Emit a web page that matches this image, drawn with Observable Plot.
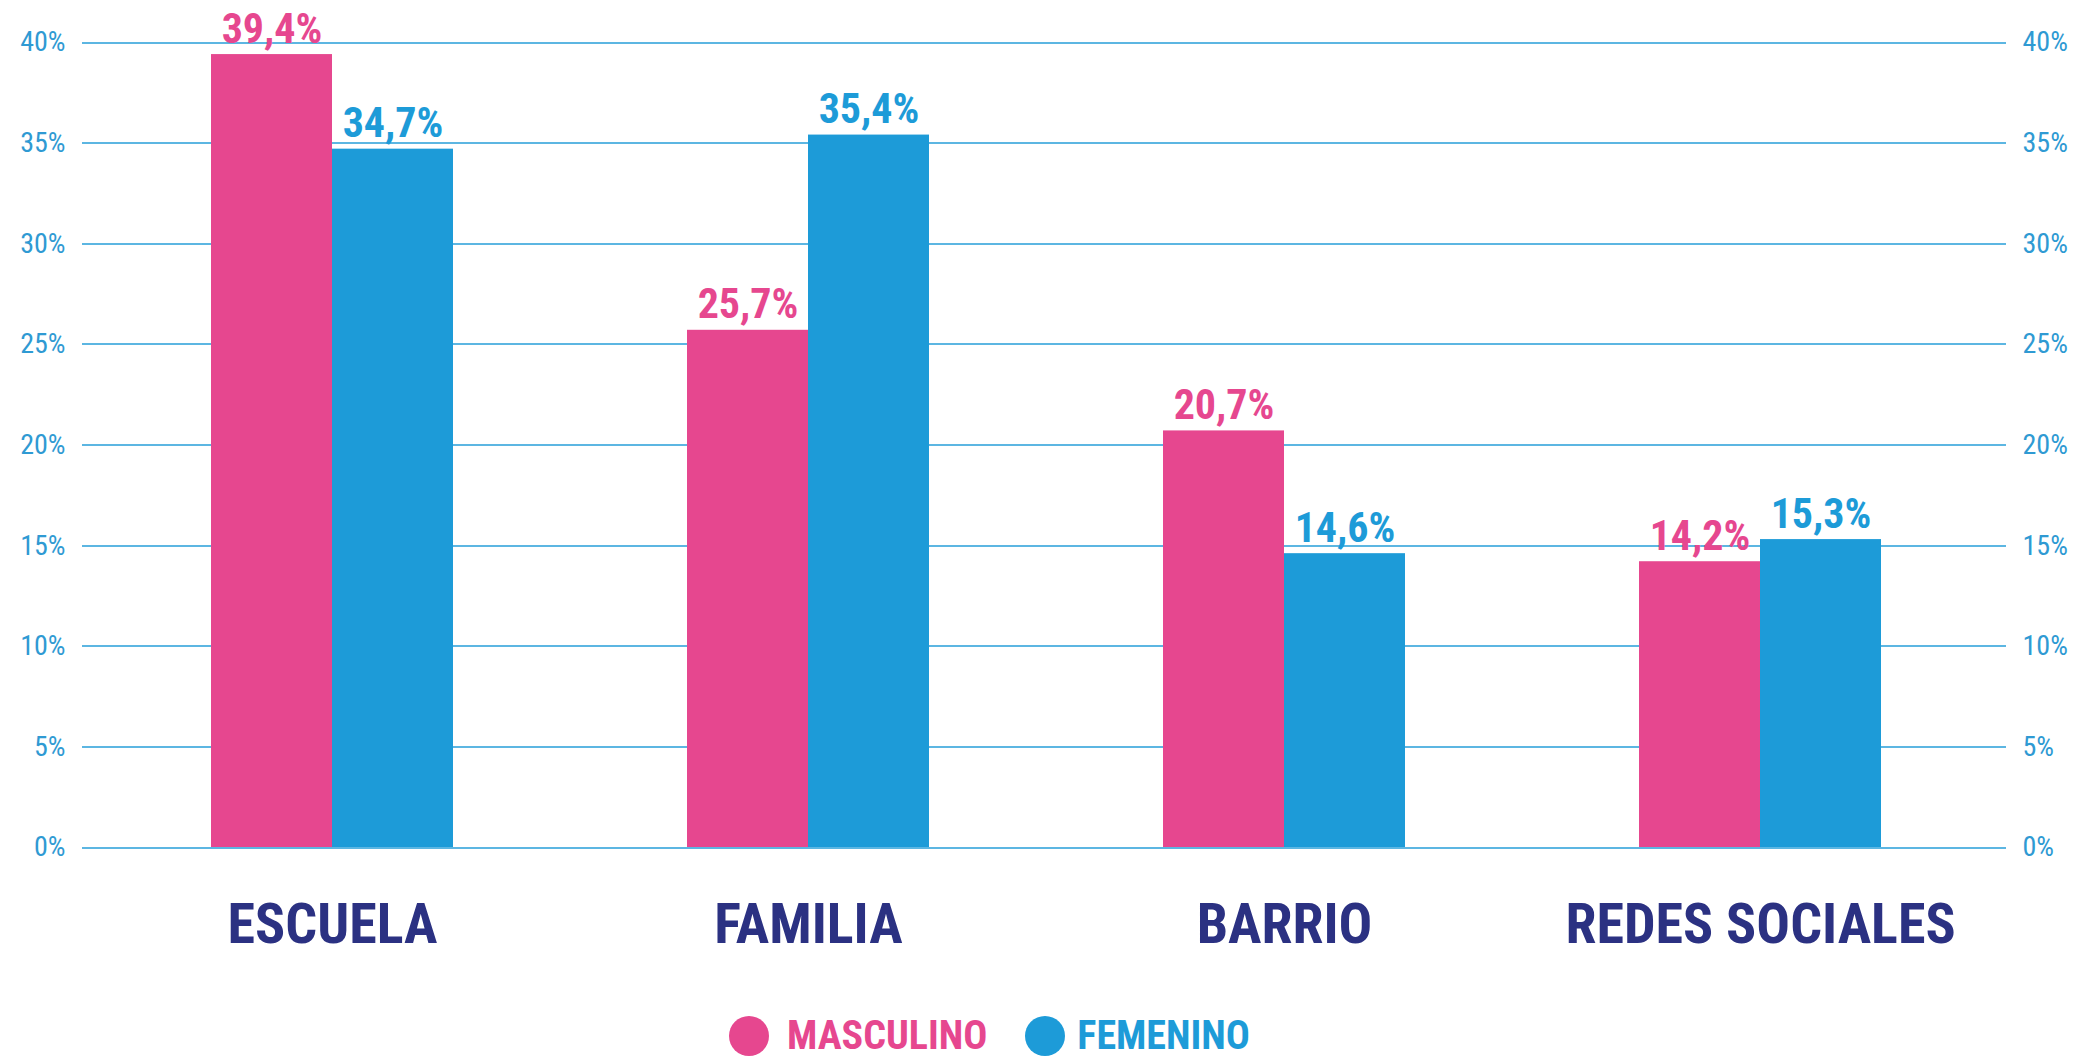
<!DOCTYPE html>
<html>
<head>
<meta charset="utf-8">
<script src="https://cdn.jsdelivr.net/npm/d3@7"></script>
<script src="https://cdn.jsdelivr.net/npm/@observablehq/plot@0.6"></script>
<style>
  html, body { margin: 0; padding: 0; background: #ffffff; }
  body { width: 2075px; height: 1058px; overflow: hidden; position: relative; font-family: "Roboto Condensed", Roboto, sans-serif; }
  #chart svg { display: block; font-family: "Roboto Condensed", Roboto, sans-serif; }
  #legend { position: absolute; left: 729px; top: 1016px; display: flex; align-items: center; height: 40px; }
  .sw { width: 40px; height: 40px; border-radius: 50%; display: inline-block; }
  .lt { font-family: "Roboto Condensed", Roboto, sans-serif; font-weight: 700; font-size: 40px; line-height: 40px; }
</style>
</head>
<body>
<div id="chart"></div>
<div id="legend"></div>
<script>
const categories = ["ESCUELA", "FAMILIA", "BARRIO", "REDES SOCIALES"];
const series = ["MASCULINO", "FEMENINO"];
const masculino = [39.4, 25.7, 20.7, 14.2];
const femenino = [34.7, 35.4, 14.6, 15.3];
const yTicks = [0, 5, 10, 15, 20, 25, 30, 35, 40];
const seriesColors = ["#e6478f", "#1d9bd8"];

const data = categories.flatMap((c, i) => [
  {category: c, sexo: series[0], value: masculino[i]},
  {category: c, sexo: series[1], value: femenino[i]}
]);
const fmt = v => v.toFixed(1).replace(".", ",") + "%";

const gridColor = "#5cb6e2";
const tickColor = "#2f9ad3";
const navy = "#2b3182";
const cond = "'Roboto Condensed', Roboto, sans-serif";

const chart = Plot.plot({
  width: 2075,
  height: 977,
  marginLeft: 92,
  marginRight: 76,
  marginTop: 42,
  marginBottom: 130,
  style: {background: "#ffffff", fontFamily: cond},
  fx: {domain: categories, padding: 0, label: null, axis: null},
  x: {domain: series, paddingInner: 0, paddingOuter: 0.954, axis: null},
  y: {domain: [0, 40], axis: null},
  color: {domain: series, range: seriesColors},
  marks: [
    Plot.gridY(yTicks, {stroke: gridColor, strokeOpacity: 1, strokeWidth: 2, insetLeft: -12, insetRight: -8, shapeRendering: "crispEdges"}),
    Plot.axisY(yTicks, {anchor: "left", tickSize: 0, tickPadding: 29, tickFormat: d => d + "%", label: null, fill: tickColor, fontSize: 28, fontWeight: 400, fontFamily: cond}),
    Plot.axisY(yTicks, {anchor: "right", tickSize: 0, tickPadding: 24, tickFormat: d => d + "%", label: null, fill: tickColor, fontSize: 28, fontWeight: 400, fontFamily: cond}),
    Plot.barY(data, {fx: "category", x: "sexo", y: "value", fill: "sexo"}),
    Plot.text(data, {fx: "category", x: "sexo", y: "value", text: d => fmt(d.value), fill: "sexo", lineAnchor: "bottom", dy: -12, fontSize: 42, fontWeight: 700, fontFamily: cond}),
    Plot.axisFx({anchor: "bottom", tickSize: 0, tickPadding: 56, label: null, fill: navy, fontSize: 56, fontWeight: 700, fontFamily: cond})
  ]
});
document.getElementById("chart").appendChild(chart);

const legend = document.getElementById("legend");
series.forEach((s, i) => {
  const sw = document.createElement("span");
  sw.className = "sw";
  sw.style.background = seriesColors[i];
  sw.style.marginRight = i === 0 ? "18px" : "12px";
  const t = document.createElement("span");
  t.className = "lt";
  t.style.color = seriesColors[i];
  t.style.marginRight = i === 0 ? "38px" : "0";
  t.textContent = s;
  legend.appendChild(sw);
  legend.appendChild(t);
});
</script>
</body>
</html>
